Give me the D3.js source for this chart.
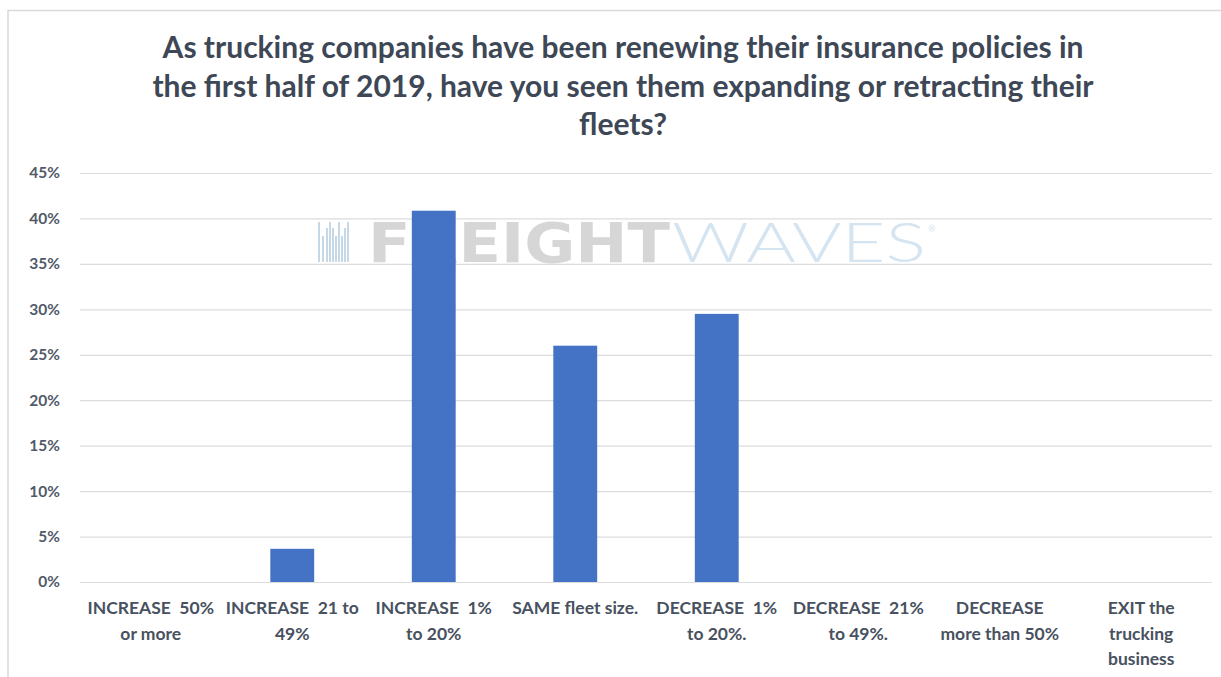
<!DOCTYPE html>
<html>
<head>
<meta charset="utf-8">
<script src="https://cdn.jsdelivr.net/npm/d3@7"></script>
<style>
  html, body { margin: 0; padding: 0; background: #fff; }
  svg { display: block; }
  .title { font-family: Lato, "Open Sans", sans-serif; font-weight: 700; font-size: 30px; fill: #3e4756; }
  .tick-label { font-family: Lato, sans-serif; font-weight: 700; font-size: 15.5px; fill: #515a68; }
  .cat-label { font-family: Lato, sans-serif; font-weight: 700; font-size: 17.5px; fill: #485160; white-space: pre; }
  .grid line { stroke: #dcdcdc; stroke-width: 1.2; }
  .grid path { display: none; }
</style>
</head>
<body>
<svg id="chart" width="1221" height="677"></svg>
<script>
// chart data
const categories = [
  'INCREASE 50% or more',
  'INCREASE 21 to 49%',
  'INCREASE 1% to 20%',
  'SAME fleet size.',
  'DECREASE 1% to 20%.',
  'DECREASE 21% to 49%.',
  'DECREASE more than 50%',
  'EXIT the trucking business'
];
const categoryLines = [
  ['INCREASE  50%', 'or more'],
  ['INCREASE  21 to', '49%'],
  ['INCREASE  1%', 'to 20%'],
  ['SAME fleet size.'],
  ['DECREASE  1%', 'to 20%.'],
  ['DECREASE  21%', 'to 49%.'],
  ['DECREASE', 'more than 50%'],
  ['EXIT the', 'trucking', 'business']
];
const values = [0, 3.65, 40.85, 26.0, 29.5, 0, 0, 0];
const yTicks = [0, 5, 10, 15, 20, 25, 30, 35, 40, 45];
const titleLines = [
  'As trucking companies have been renewing their insurance policies in',
  'the first half of 2019, have you seen them expanding or retracting their',
  'fleets?'
];

const W = 1221, H = 677;
const margin = { top: 173, right: 9, bottom: 95, left: 80 };
const innerW = W - margin.left - margin.right;
const innerH = H - margin.top - margin.bottom;

const svg = d3.select('#chart');

// outer frame
svg.append('path')
  .attr('d', `M8,${H} V10.5 H${W}`)
  .attr('fill', 'none')
  .attr('stroke', '#d9d9d9')
  .attr('stroke-width', 1.5);

// title
svg.append('text')
  .attr('class', 'title')
  .attr('text-anchor', 'middle')
  .selectAll('tspan')
  .data(titleLines)
  .join('tspan')
  .attr('x', 623)
  .attr('y', (d, i) => 58 + i * 38.5)
  .text(d => d);

const g = svg.append('g')
  .attr('transform', `translate(${margin.left},${margin.top})`);

const x = d3.scaleBand()
  .domain(categories)
  .range([0, innerW])
  .paddingInner(0.69)
  .paddingOuter(0.345);

const y = d3.scaleLinear()
  .domain([0, 45])
  .range([innerH, 0]);

// gridlines
g.append('g')
  .attr('class', 'grid')
  .call(d3.axisLeft(y).tickValues(yTicks).tickSize(-innerW).tickFormat(() => ''));

// y tick labels
g.append('g')
  .selectAll('text')
  .data(yTicks)
  .join('text')
  .attr('class', 'tick-label')
  .attr('x', -20)
  .attr('y', d => y(d))
  .attr('dy', '0.35em')
  .attr('text-anchor', 'end')
  .text(d => d + '%');

// watermark
const wm = g.append('g').attr('transform', `translate(${318 - margin.left},${262 - margin.top})`);
const stripes = [0, 4, 8, 11, 14, 17, 20, 23, 26, 29];
wm.selectAll('rect')
  .data(stripes)
  .join('rect')
  .attr('x', d => d)
  .attr('y', (d, i) => (i % 3 === 0 ? -40 : -34 + (i % 2) * 8))
  .attr('width', 2)
  .attr('height', (d, i) => (i % 3 === 0 ? 40 : 34 - (i % 2) * 8))
  .attr('fill', '#c6d7e6');
wm.append('text')
  .attr('x', 50)
  .attr('y', 0)
  .attr('textLength', 302)
  .attr('lengthAdjust', 'spacingAndGlyphs')
  .style('font-family', '"DejaVu Sans", sans-serif')
  .style('font-weight', 700)
  .style('font-size', '55px')
  .style('fill', '#d6d6d6')
  .text('FREIGHT');
wm.append('text')
  .attr('x', 354)
  .attr('y', 0)
  .attr('textLength', 254)
  .attr('lengthAdjust', 'spacingAndGlyphs')
  .style('font-family', 'Lato, sans-serif')
  .style('font-weight', 300)
  .style('font-size', '55px')
  .style('fill', '#d4e4f1')
  .text('WAVES');
wm.append('text')
  .attr('x', 610)
  .attr('y', -30)
  .style('font-family', 'Lato, sans-serif')
  .style('font-size', '9px')
  .style('fill', '#d4e4f1')
  .text('®');

// bars
g.selectAll('.bar')
  .data(values)
  .join('rect')
  .attr('class', 'bar')
  .attr('x', (d, i) => x(categories[i]))
  .attr('y', d => y(d))
  .attr('width', x.bandwidth())
  .attr('height', d => innerH - y(d))
  .attr('fill', '#4472c4');

// category labels
const cats = g.append('g')
  .selectAll('text')
  .data(categories)
  .join('text')
  .attr('class', 'cat-label')
  .attr('text-anchor', 'middle');
cats.selectAll('tspan')
  .data((d, i) => categoryLines[i].map(t => ({ t, c: d })))
  .join('tspan')
  .attr('x', d => x(d.c) + x.bandwidth() / 2)
  .attr('y', (d, i) => innerH + 32 + i * 25.5)
  .text(d => d.t);
</script>
</body>
</html>
